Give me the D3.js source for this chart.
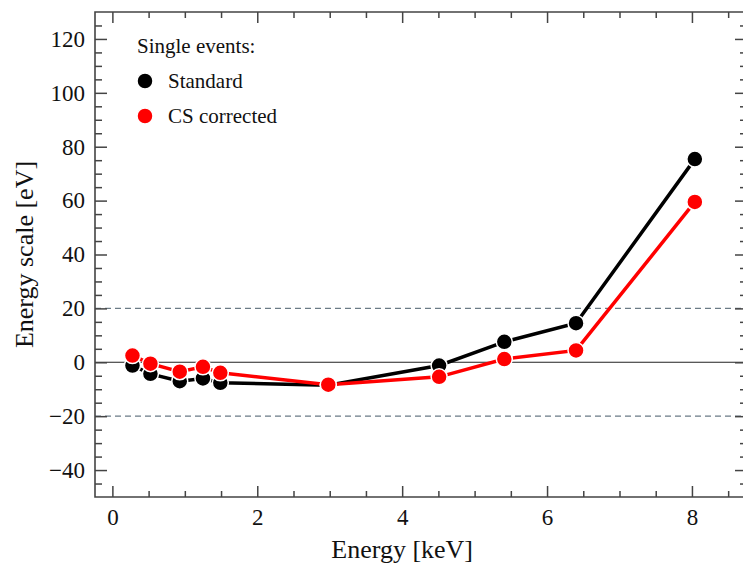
<!DOCTYPE html>
<html>
<head>
<meta charset="utf-8">
<script src="https://cdn.jsdelivr.net/npm/d3@7"></script>
<style>
  body { margin: 0; background: #fff; }
  svg { display: block; }
  svg text { font-family: "Liberation Serif", "Times New Roman", Times, serif !important; fill: #111; }
</style>
</head>
<body>
<svg id="chart"></svg>
<script>
// values
const energies = [0.277, 0.525, 0.93, 1.25, 1.49, 2.98, 4.51, 5.41, 6.40, 8.04]
const standard = [-1.2, -4.3, -7.0, -6.0, -7.6, -8.5, -1.2, 7.6, 14.5, 75.4]
const csCorrected = [2.5, -0.5, -3.5, -1.7, -3.9, -8.3, -5.4, 1.2, 4.4, 59.5]
const xTicks = [0, 2, 4, 6, 8]
const yTicks = [-40, -20, 0, 20, 40, 60, 80, 100, 120]
const refLines = [-20, 20]

const series = [
  { label: 'Standard', color: '#000', values: standard },
  { label: 'CS corrected', color: '#f00', values: csCorrected }
]

const W = 743, H = 566
const margin = { top: 12, right: -4, bottom: 69, left: 95 }
const width = W - margin.left - margin.right
const height = H - margin.top - margin.bottom

const svg = d3.select('#chart').attr('width', W).attr('height', H)
const g = svg.append('g').attr('transform', `translate(${margin.left},${margin.top})`)

const x = d3.scaleLinear().domain([-0.24, 8.76]).range([0, width])
const y = d3.scaleLinear().domain([-50, 130]).range([height, 0])

const frameColor = '#444'

// reference lines
g.selectAll('.ref').data(refLines).join('line')
  .attr('x1', 0).attr('x2', width)
  .attr('y1', d => y(d)).attr('y2', d => y(d))
  .attr('stroke', '#6b7b86').attr('stroke-width', 1.1)
  .attr('stroke-dasharray', '6,4')
g.append('line')
  .attr('x1', 0).attr('x2', width)
  .attr('y1', y(0)).attr('y2', y(0))
  .attr('stroke', '#222').attr('stroke-width', 1.1)

// ticks on all four sides, pointing inward
const xMinor = d3.range(0, 9, 0.5).filter(v => !xTicks.includes(v))
const yMinor = d3.range(-45, 130, 5).filter(v => !yTicks.includes(v))

function tickAxis(axisFn, scale, values, size) {
  return axisFn(scale).tickValues(values).tickSize(size).tickFormat('')
}

const axes = svg.append('g').attr('transform', `translate(${margin.left},${margin.top})`)
function addAxis(axis, transform) {
  const a = axes.append('g').attr('transform', transform).call(axis)
  a.select('.domain').remove()
  a.selectAll('line').attr('stroke', frameColor).attr('stroke-width', 1.5)
  return a
}
addAxis(tickAxis(d3.axisTop, x, xTicks, 11), `translate(0,${height})`)
addAxis(tickAxis(d3.axisTop, x, xMinor, 6), `translate(0,${height})`)
addAxis(tickAxis(d3.axisBottom, x, xTicks, 11), 'translate(0,0)')
addAxis(tickAxis(d3.axisBottom, x, xMinor, 6), 'translate(0,0)')
addAxis(tickAxis(d3.axisRight, y, yTicks, 12), 'translate(0,0)')
addAxis(tickAxis(d3.axisRight, y, yMinor, 7), 'translate(0,0)')
addAxis(tickAxis(d3.axisLeft, y, yTicks, 12), `translate(${width},0)`)
addAxis(tickAxis(d3.axisLeft, y, yMinor, 7), `translate(${width},0)`)

// tick labels
const xLab = axes.append('g').attr('transform', `translate(0,${height})`)
  .call(d3.axisBottom(x).tickValues(xTicks).tickSize(0).tickPadding(12))
xLab.select('.domain').remove()
xLab.selectAll('text').style('font-size', '23px')

const yLab = axes.append('g')
  .call(d3.axisLeft(y).tickValues(yTicks).tickSize(0).tickPadding(10)
    .tickFormat(d => d < 0 ? '\u2212' + Math.abs(d) : d))
yLab.select('.domain').remove()
yLab.selectAll('text').style('font-size', '23px')

// frame
axes.append('path')
  .attr('d', `M${width},0H0V${height}H${width}`)
  .attr('fill', 'none').attr('stroke', frameColor).attr('stroke-width', 1.6)

// lines and markers
const line = d3.line().x((d, i) => x(energies[i])).y(d => y(d))
for (let s of series) {
  g.append('path')
    .datum(s.values)
    .attr('fill', 'none')
    .attr('stroke', s.color)
    .attr('stroke-width', 3.5)
    .attr('d', line)
}
for (let s of series) {
  g.selectAll(null).data(s.values).join('circle')
    .attr('cx', (d, i) => x(energies[i]))
    .attr('cy', d => y(d))
    .attr('r', 8)
    .attr('fill', s.color)
    .attr('stroke', '#fff')
    .attr('stroke-width', 1.5)
}

// legend
const legend = g.append('g').attr('transform', 'translate(42,34)')
legend.append('text').attr('x', 0).attr('y', 0).attr('dy', '0.35em')
  .style('font-size', '21px').text('Single events:')
series.forEach((s, i) => {
  const row = legend.append('g').attr('transform', `translate(0,${35 + i * 35})`)
  row.append('circle').attr('cx', 8).attr('cy', 0).attr('r', 8)
    .attr('fill', s.color).attr('stroke', '#fff').attr('stroke-width', 1.5)
  row.append('text').attr('x', 31).attr('y', 0).attr('dy', '0.35em')
    .style('font-size', '21px').text(s.label)
})

// axis titles
svg.append('text')
  .attr('x', margin.left + x(4)).attr('y', 558)
  .attr('text-anchor', 'middle').style('font-size', '26px')
  .text('Energy [keV]')
svg.append('text')
  .attr('transform', `translate(33,${margin.top + y(40)}) rotate(-90)`)
  .attr('text-anchor', 'middle').style('font-size', '26px')
  .text('Energy scale [eV]')
</script>
</body>
</html>
